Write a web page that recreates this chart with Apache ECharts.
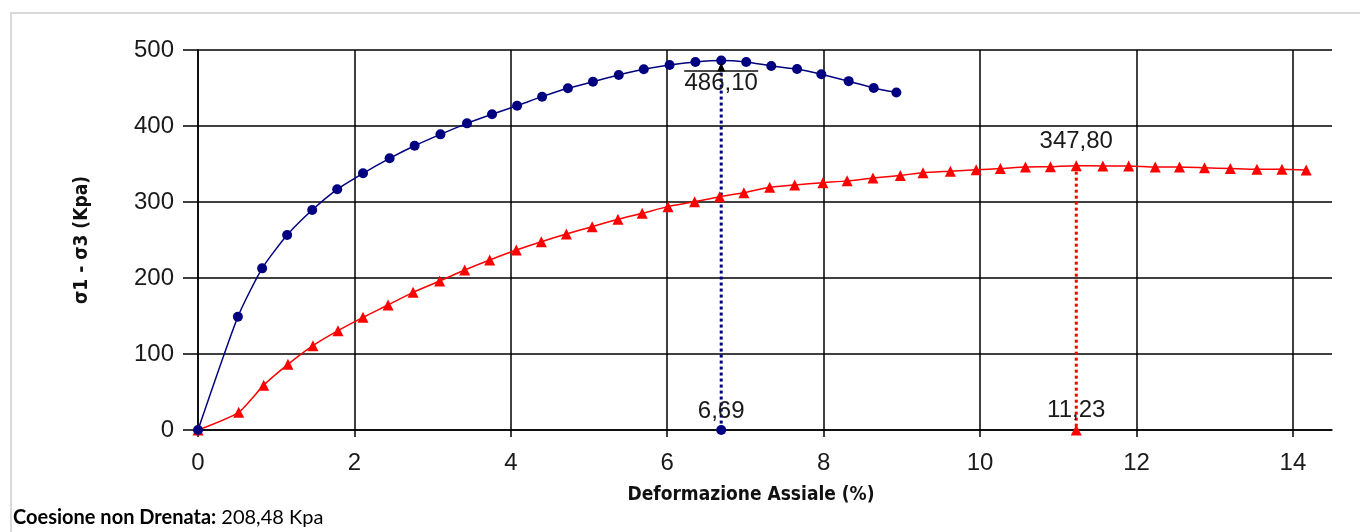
<!DOCTYPE html>
<html>
<head>
<meta charset="utf-8">
<title>Prova triassiale UU</title>
<script src="https://cdn.jsdelivr.net/npm/echarts@6/dist/echarts.min.js"></script>
<style>
  html, body { margin: 0; padding: 0; background: #ffffff; }
  #chart { width: 1360px; height: 532px; }
</style>
</head>
<body>
<div id="chart"></div>
<script>
// Provino 1: deformazione assiale (%) e deviatore (kPa)
const strainA = [0, 0.51, 0.82, 1.14, 1.46, 1.78, 2.11, 2.45, 2.77, 3.10, 3.44, 3.76, 4.08, 4.40,
  4.73, 5.05, 5.38, 5.70, 6.03, 6.36, 6.69, 7.01, 7.33, 7.66, 7.97, 8.32, 8.64, 8.93];
const stressA = [0, 149, 212.7, 256.6, 289.5, 316.7, 337.8, 357.5, 374, 389, 403.5, 415.4, 426.7, 438.6,
  449.6, 458.3, 467.1, 474.6, 480.3, 484.2, 486.10, 484.2, 479, 475, 468, 459, 450, 444];

// Provino 2
const strainB = [0, 0.52, 0.84, 1.15, 1.47, 1.79, 2.11, 2.43, 2.75, 3.09, 3.41, 3.73, 4.07, 4.39,
  4.71, 5.04, 5.37, 5.68, 6.01, 6.35, 6.67, 6.98, 7.31, 7.63, 7.99, 8.30, 8.63, 8.98, 9.27, 9.62,
  9.95, 10.26, 10.58, 10.90, 11.23, 11.57, 11.90, 12.24, 12.55, 12.87, 13.20, 13.54, 13.86, 14.17];
const stressB = [0, 23.3, 59, 86.4, 111, 130.7, 148.2, 164.5, 181.1, 196, 210.5, 223.7, 236.8, 247.8,
  257.9, 267.5, 277.2, 285.1, 293.9, 300.4, 307, 312.2, 319.3, 322.4, 325.4, 327.8, 331.5, 335, 338.5, 340.5,
  342.5, 344, 346, 346.5, 347.80, 347.5, 347.5, 346, 346, 345, 344, 343, 343, 342];

// Valori di rottura (picco) dei due provini
const peakStrain = [6.69, 11.23];
const peakStress = [486.10, 347.80];

// Tacche degli assi
const xTicks = [0, 2, 4, 6, 8, 10, 12, 14];
const yTicks = [0, 100, 200, 300, 400, 500];

const undrainedCohesion = 208.48;

const NAVY = '#000080';
const RED = '#ff0000';
const NUM_FONT = "'Liberation Sans', Arial, sans-serif";
const NUM_SIZE = 24;
const TITLE_FONT = "'DejaVu Sans Condensed', 'DejaVu Sans', Verdana, sans-serif";

const fmt = v => v.toFixed(2).replace('.', ',');
const pairs = (xs, ys) => xs.map((x, i) => [x, ys[i]]);

const peakIdxB = strainB.indexOf(peakStrain[1]);
const dataB = pairs(strainB, stressB).map((p, i) => i === peakIdxB ? {
  value: p,
  label: {
    show: true, position: 'top', distance: 7,
    formatter: () => fmt(peakStress[1]),
    fontFamily: NUM_FONT, fontSize: NUM_SIZE, color: '#1a1a1a'
  }
} : p);

const chart = echarts.init(document.getElementById('chart'), null, { renderer: 'canvas' });

chart.setOption({
  backgroundColor: '#ffffff',
  animation: false,
  graphic: [
    {
      type: 'polyline',
      shape: { points: [[11, 540], [11, 13], [1370, 13]] },
      style: { stroke: '#d9d9d9', lineWidth: 2, fill: null },
      silent: true
    },
    {
      type: 'text',
      left: 13,
      top: 508,
      style: {
        text: '{b|Coesione non Drenata:} ' + fmt(undrainedCohesion) + ' Kpa',
        font: "20px Lato, 'Open Sans', sans-serif",
        fill: '#000',
        rich: {
          b: { fontFamily: "Lato, 'Open Sans', sans-serif", fontSize: 20, fontWeight: 'bold', fill: '#000' }
        }
      }
    }
  ],
  grid: { left: 198, right: 28, top: 50, bottom: 102, containLabel: false },
  xAxis: {
    type: 'value',
    min: 0, max: 14.5, interval: 2,
    name: 'Deformazione Assiale (%)',
    nameLocation: 'middle',
    nameGap: 56,
    nameTextStyle: { fontFamily: TITLE_FONT, fontWeight: 'bold', fontSize: 19, color: '#111', padding: [0, 28, 0, 0] },
    axisLine: { show: true, onZero: false, lineStyle: { color: '#000', width: 1.5 } },
    axisTick: { show: true, length: 7, customValues: xTicks, lineStyle: { color: '#000', width: 1.5 } },
    axisLabel: {
      customValues: xTicks,
      margin: 21,
      fontFamily: NUM_FONT, fontSize: NUM_SIZE, color: '#1a1a1a',
      formatter: v => String(v)
    },
    splitLine: { show: true, lineStyle: { color: '#000', width: 1.5 } }
  },
  yAxis: {
    type: 'value',
    min: 0, max: 500, interval: 100,
    name: 'σ1 - σ3 (Kpa)',
    nameLocation: 'middle',
    nameGap: 106,
    nameRotate: 90,
    nameTextStyle: { fontFamily: TITLE_FONT, fontWeight: 'bold', fontSize: 19, color: '#111' },
    axisLine: { show: true, onZero: false, lineStyle: { color: '#000', width: 1.5 } },
    axisTick: { show: true, length: 15, customValues: yTicks, lineStyle: { color: '#000', width: 1.5 } },
    axisLabel: {
      customValues: yTicks,
      margin: 24,
      fontFamily: NUM_FONT, fontSize: NUM_SIZE, color: '#1a1a1a',
      padding: [0, 0, 6, 0],
      formatter: v => String(v)
    },
    splitLine: { show: true, lineStyle: { color: '#000', width: 1.5 } }
  },
  series: [
    // linee di riferimento verticali dal picco all'asse
    {
      type: 'line', silent: true, showSymbol: false, z: 2,
      data: [[peakStrain[0], peakStress[0]], [peakStrain[0], 0]],
      lineStyle: { color: NAVY, width: 3, type: [3, 3] }
    },
    {
      type: 'line', silent: true, showSymbol: false, z: 2,
      data: [[peakStrain[1], peakStress[1]], [peakStrain[1], 0]],
      lineStyle: { color: RED, width: 3, type: [3, 3] }
    },
    {
      name: 'Provino 2',
      type: 'line', z: 3,
      data: dataB,
      smooth: 0.2,
      symbol: 'triangle', symbolSize: 11,
      lineStyle: { color: RED, width: 1.5 },
      itemStyle: { color: RED },
      clip: false
    },
    {
      name: 'Provino 1',
      type: 'line', z: 4,
      data: pairs(strainA, stressA),
      smooth: 0.2,
      symbol: 'circle', symbolSize: 10,
      lineStyle: { color: NAVY, width: 1.5 },
      itemStyle: { color: NAVY },
      clip: false
    },
    // deformazione di rottura sull'asse orizzontale
    {
      type: 'scatter', z: 5, clip: false,
      itemStyle: { opacity: 1 },
      data: [
        { value: [peakStrain[0], 0], symbol: 'circle', symbolSize: 10, itemStyle: { color: NAVY, opacity: 1 } },
        { value: [peakStrain[1], 0], symbol: 'triangle', symbolSize: 11, itemStyle: { color: RED, opacity: 1 } }
      ],
      label: {
        show: true, position: 'top', distance: 2,
        formatter: p => fmt(p.value[0]),
        fontFamily: NUM_FONT, fontSize: NUM_SIZE, color: '#1a1a1a', opacity: 1
      }
    },
    // etichetta del picco del provino 1
    {
      type: 'custom', z: 6, silent: true, clip: false,
      data: [[peakStrain[0], peakStress[0]]],
      renderItem: (params, api) => {
        const p = api.coord([api.value(0), api.value(1)]);
        return {
          type: 'group',
          children: [
            { type: 'line', shape: { x1: p[0] - 37, y1: p[1] + 10.5, x2: p[0] + 37, y2: p[1] + 10.5 },
              style: { stroke: '#4a4a4a', lineWidth: 2 } },
            { type: 'polygon', shape: { points: [[p[0], p[1] + 2], [p[0] - 4, p[1] + 11], [p[0] + 4, p[1] + 11]] },
              style: { fill: '#000' } },
            { type: 'text', x: p[0], y: p[1] + 23,
              style: { text: fmt(api.value(1)), fontFamily: NUM_FONT, fontSize: NUM_SIZE, fill: '#1a1a1a',
                       align: 'center', verticalAlign: 'middle' } }
          ]
        };
      }
    }
  ]
});
</script>
</body>
</html>
